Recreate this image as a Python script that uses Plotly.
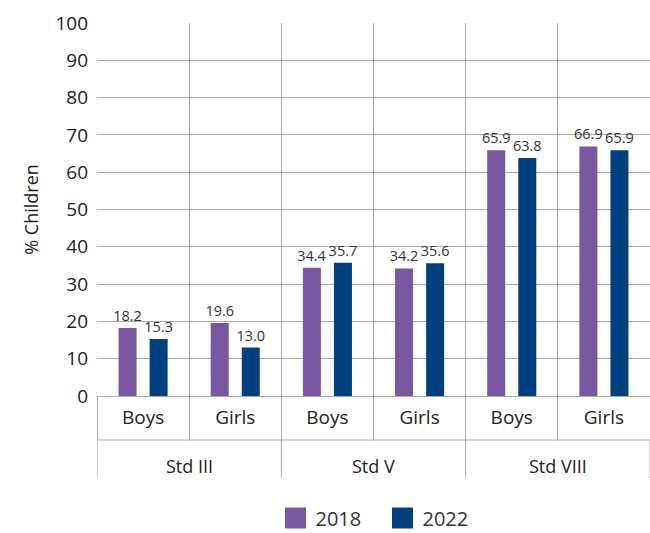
import plotly.graph_objects as go

groups = ["Std III", "Std V", "Std VIII"]
genders = ["Boys", "Girls", "Boys", "Girls", "Boys", "Girls"]
years = ["2018", "2022"]
vals_2018 = [18.2, 19.6, 34.4, 34.2, 65.9, 66.9]
vals_2022 = [15.3, 13.0, 35.7, 35.6, 63.8, 65.9]
y_ticks = [0, 10, 20, 30, 40, 50, 60, 70, 80, 90, 100]

FONT = "Open Sans"
GRID = "#ababab"
TXT = "#222222"
COLORS = ["#7857a1", "#00407e"]

pos = list(range(len(genders)))
bounds = [p - 0.5 for p in pos] + [pos[-1] + 0.5]
group_centers = [2 * i + 0.5 for i in range(len(groups))]
group_bounds = [2 * i - 0.5 for i in range(len(groups) + 1)]

fig = go.Figure()
for name, vals, col in zip(years, [vals_2018, vals_2022], COLORS):
    fig.add_trace(go.Bar(
        x=pos, y=vals, name=name, showlegend=False,
        marker=dict(color=col, line=dict(width=0)),
        text=[f"{v:.1f}" for v in vals], textposition="outside",
        constraintext="none",
        textfont=dict(size=14.5, color="#333333", family=FONT), cliponaxis=False,
    ))
# legend entries with larger square swatches
for name, col in zip(years, COLORS):
    fig.add_trace(go.Scatter(
        x=[None], y=[None], mode="markers", name=name,
        marker=dict(symbol="square", size=16, color=col, line=dict(color=col, width=5)),
    ))

PLOT_H = 533 - 23 - 137
PLOT_W = 650 - 97

fig.update_layout(
    width=650, height=533,
    margin=dict(l=97, r=0, t=23, b=137, autoexpand=False),
    paper_bgcolor="white", plot_bgcolor="white",
    font=dict(family=FONT, color=TXT),
    barmode="group", bargap=0.326, bargroupgap=0.42,
    showlegend=True,
    legend=dict(orientation="h", x=0.5 + 9 / PLOT_W, xanchor="center",
                y=-122 / PLOT_H, yanchor="middle",
                font=dict(size=20, color="#333333"), traceorder="normal",
                itemsizing="trace", entrywidth=62),
    xaxis=dict(range=[-0.5, len(genders) - 0.5], tickvals=pos, ticktext=genders,
               showgrid=False, ticks="", tickfont=dict(size=19, color=TXT),
               ticklabelstandoff=4,
               automargin=False, zeroline=False, showline=True, linecolor=GRID,
               minor=dict(tickvals=bounds, ticks="outside", ticklen=44, tickcolor=GRID,
                          showgrid=True, gridcolor=GRID, gridwidth=1)),
    yaxis=dict(range=[0, 100], tickvals=y_ticks, showgrid=True, gridcolor=GRID,
               gridwidth=1, tickfont=dict(size=19, color=TXT), automargin=False,
               ticks="", zeroline=False, showline=False, ticklabelstandoff=8,
               title=dict(text="% Children", font=dict(size=18, color=TXT), standoff=12)),
)

# horizontal separator between the two label rows
fig.add_shape(type="line", xref="paper", yref="paper", x0=0, x1=1,
              y0=-44 / PLOT_H, y1=-44 / PLOT_H, line=dict(color=GRID, width=1))
# group dividers
for b in group_bounds:
    fig.add_shape(type="line", xref="x", yref="paper", x0=b, x1=b,
                  y0=-44 / PLOT_H, y1=-82 / PLOT_H, line=dict(color=GRID, width=1))
# group labels
for g, c in zip(groups, group_centers):
    fig.add_annotation(x=c, xref="x", y=-70 / PLOT_H, yref="paper", text=g,
                       showarrow=False, font=dict(size=18, color=TXT),
                       xanchor="center", yanchor="middle")

fig.write_html("out.html", post_script="document.body.style.margin='0';",
               config={"displayModeBar": False})
